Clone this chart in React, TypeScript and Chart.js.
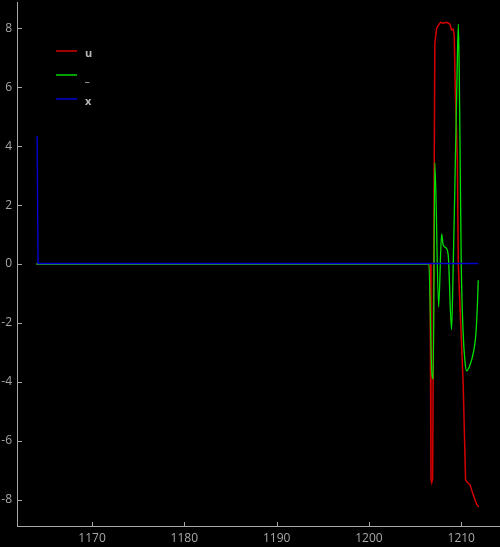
import React, { useEffect, useRef } from "react";
import { Chart, registerables } from "chart.js";

Chart.register(...registerables);

// ---- data ----
const seriesLabels = ["u", "_", "x"];

const uX = [1163.97, 1206.62, 1206.72, 1206.8, 1206.9, 1207.14, 1207.33, 1207.5, 1207.76, 1208.04, 1208.41, 1208.77, 1208.95, 1209.13, 1209.24, 1209.35, 1209.58, 1209.68, 1210.21, 1210.47, 1210.7, 1210.95, 1211.25, 1211.65, 1211.9];
const uY = [0, 0, -7.3, -7.42, -7.3, 7.5, 8.0, 8.1, 8.21, 8.18, 8.21, 8.15, 7.95, 7.98, 7.78, 6.0, 3.5, 0.0, -4.1, -7.34, -7.42, -7.5, -7.8, -8.15, -8.25];

const gX = [1163.97, 1206.49, 1206.79, 1206.96, 1207.14, 1207.55, 1207.87, 1208.04, 1208.34, 1208.59, 1208.95, 1209.1, 1209.3, 1209.55, 1209.69, 1209.8, 1209.9, 1210.0, 1210.2, 1210.4, 1210.58, 1210.94, 1211.3, 1211.59, 1211.77, 1211.84];
const gY = [0, 0, -3.55, -3.9, 3.44, -1.46, 1.02, 0.65, 0.55, 0.3, -2.23, -0.5, 2.5, 6.5, 8.15, 6.0, 3.0, 0.0, -2.3, -3.3, -3.63, -3.44, -3.03, -2.36, -1.23, -0.55];

const xX = [1164.05, 1164.15, 1211.84];
const xY = [4.35, 0.017, 0.017];

const xTickStep = 10;
const yTickStep = 2;
const xRange = [1161.87, 1214.09];
const yRange = [-8.9, 8.9];

const lineColors = ["#d40000", "#00e000", "#0000d0"];
const legendColors = ["#a00000", "#00a000", "#0000a0"];
const AXIS = "#a8a8a8";
const FONT = "'Open Sans', sans-serif";

const toPts = (xs: number[], ys: number[]) => xs.map((x, i) => ({ x, y: ys[i] }));

const decor = {
  id: "decor",
  beforeDraw(chart: any) {
    const ctx = chart.ctx;
    ctx.save();
    ctx.fillStyle = "#000";
    ctx.fillRect(0, 0, chart.width, chart.height);
    ctx.restore();
  },
  afterDraw(chart: any) {
    const ctx = chart.ctx;
    const { left, top, bottom } = chart.chartArea;
    ctx.save();
    ctx.strokeStyle = AXIS;
    ctx.lineWidth = 1;
    const xs = chart.scales.x;
    xs.ticks.forEach((t: any) => {
      const p = Math.round(xs.getPixelForValue(t.value)) + 0.5;
      ctx.beginPath();
      ctx.moveTo(p, bottom);
      ctx.lineTo(p, bottom - 4);
      ctx.stroke();
    });
    const ys = chart.scales.y;
    ys.ticks.forEach((t: any) => {
      const p = Math.round(ys.getPixelForValue(t.value)) + 0.5;
      ctx.beginPath();
      ctx.moveTo(left, p);
      ctx.lineTo(left + 5, p);
      ctx.stroke();
    });
    // legend
    ctx.font = "bold 11px " + FONT;
    ctx.textAlign = "left";
    ctx.textBaseline = "alphabetic";
    seriesLabels.forEach((lab, i) => {
      const y = top + 49 + i * 24;
      ctx.strokeStyle = legendColors[i];
      ctx.lineWidth = 2;
      ctx.beginPath();
      ctx.moveTo(left + 39, y);
      ctx.lineTo(left + 60, y);
      ctx.stroke();
      ctx.fillStyle = "#b8b8b8";
      ctx.fillText(lab, left + 68, y + 6);
    });
    ctx.restore();
  },
};

export default function App() {
  const ref = useRef<HTMLCanvasElement | null>(null);
  useEffect(() => {
    document.body.style.margin = "0";
    document.body.style.background = "#000";
    const chart = new Chart(ref.current as HTMLCanvasElement, {
      type: "line",
      data: {
        datasets: [
          { label: seriesLabels[0], data: toPts(uX, uY), borderColor: lineColors[0], borderWidth: 1.5, pointRadius: 0, order: 3, tension: 0 },
          { label: seriesLabels[1], data: toPts(gX, gY), borderColor: lineColors[1], borderWidth: 1.3, pointRadius: 0, order: 2, cubicInterpolationMode: "monotone" },
          { label: seriesLabels[2], data: toPts(xX, xY), borderColor: lineColors[2], borderWidth: 1.4, pointRadius: 0, order: 1, tension: 0 },
        ],
      },
      options: {
        responsive: false,
        animation: false,
        layout: { padding: { top: 2, right: 1, left: 0, bottom: 0 } },
        plugins: { legend: { display: false }, tooltip: { enabled: false } },
        scales: {
          x: {
            type: "linear",
            min: xRange[0],
            max: xRange[1],
            grid: { display: false, drawTicks: false },
            border: { display: true, color: AXIS, width: 1 },
            ticks: { stepSize: xTickStep, includeBounds: false, color: AXIS, font: { family: FONT, size: 12 }, padding: 5, maxRotation: 0, callback: (v: any) => String(v) },
            afterFit: (s: any) => { s.height = 21; s.paddingLeft = 0; s.paddingRight = 0; },
          },
          y: {
            type: "linear",
            min: yRange[0],
            max: yRange[1],
            grid: { display: false, drawTicks: false },
            border: { display: true, color: AXIS, width: 1 },
            ticks: { stepSize: yTickStep, includeBounds: false, color: AXIS, font: { family: FONT, size: 12 }, padding: 5 },
            afterFit: (s: any) => { s.width = 17; s.paddingTop = 0; s.paddingBottom = 0; },
          },
        },
      },
      plugins: [decor],
    } as any);
    return () => chart.destroy();
  }, []);
  return (
    <div style={{ position: "fixed", left: 0, top: 0, width: 500, height: 547, background: "#000" }}>
      <canvas ref={ref} width={500} height={547} />
    </div>
  );
}
